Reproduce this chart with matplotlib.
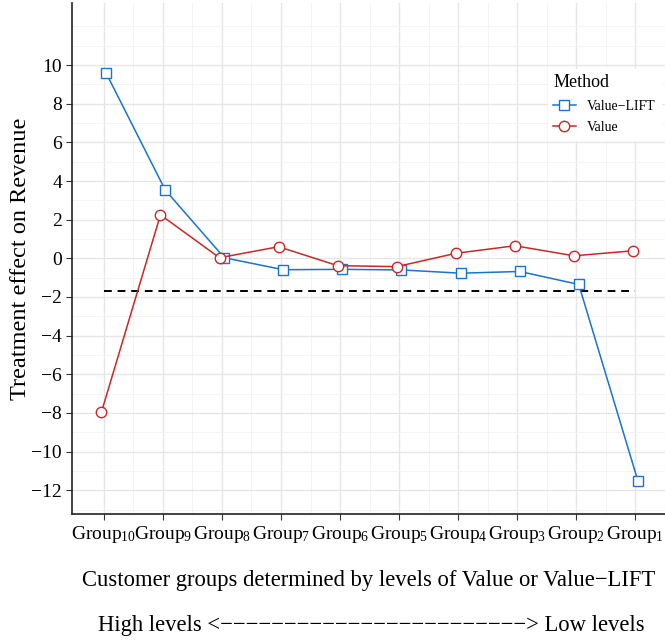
import numpy as np
import matplotlib
matplotlib.use('Agg')
import matplotlib.pyplot as plt

plt.rcParams['font.family'] = ['Liberation Serif', 'DejaVu Serif']
plt.rcParams['mathtext.fontset'] = 'custom'
plt.rcParams['mathtext.rm'] = 'Liberation Serif'
plt.rcParams['mathtext.it'] = 'Liberation Serif'

# data
groups = [r'Group$_{10}$', r'Group$_{9}$', r'Group$_{8}$', r'Group$_{7}$', r'Group$_{6}$',
          r'Group$_{5}$', r'Group$_{4}$', r'Group$_{3}$', r'Group$_{2}$', r'Group$_{1}$']
value_lift = [9.59, 3.54, 0.03, -0.59, -0.57, -0.6, -0.77, -0.68, -1.35, -11.5]
value = [-7.97, 2.25, 0.03, 0.6, -0.38, -0.43, 0.26, 0.65, 0.13, 0.39]
ref_level = -1.67

blue = '#1874CD'
red = '#CD2626'

fig = plt.figure(figsize=(6.65, 6.43), dpi=100)
ax = fig.add_axes([0.108, 0.2, 0.892, 0.795])

x = np.arange(1, len(groups) + 1)
dodge = 0.04
ax.hlines(ref_level, x[0], x[-1], colors='black', linestyles=(0, (4, 3)), linewidth=1.4, zorder=2)
ax.plot(x + dodge, value_lift, '-', color=blue, linewidth=1.1, marker='s', markersize=7,
        markerfacecolor='white', markeredgecolor=blue, markeredgewidth=1.0, label='Value\u2212LIFT', zorder=3)
ax.plot(x - dodge, value, '-', color=red, linewidth=1.1, marker='o', markersize=7.5,
        markerfacecolor='white', markeredgecolor=red, markeredgewidth=1.0, label='Value', zorder=3)

ax.set_xlim(0.46, 10.5)
ax.set_ylim(-13.25, 13.2)
ax.set_xticks(x)
ax.set_xticklabels(groups, fontsize=14)
ax.set_yticks(np.arange(-12, 11, 2))
ax.set_yticklabels([str(v).replace('-', '\u2212') for v in range(-12, 11, 2)], fontsize=14)
ax.set_xticks(np.arange(1.5, 10.5, 1), minor=True)
ax.set_yticks(np.arange(-13, 13, 1), minor=True)
ax.tick_params(which='minor', length=0)
ax.tick_params(which='major', length=4, width=0.8, color='#333333', pad=3)
ax.grid(which='major', color='#e6e6e6', linewidth=1.0)
ax.grid(which='minor', color='#f2f2f2', linewidth=0.6)
ax.set_axisbelow(True)
for s in ['top', 'right']:
    ax.spines[s].set_visible(False)
for s in ['left', 'bottom']:
    ax.spines[s].set_color('#222222')
    ax.spines[s].set_linewidth(1.2)

ax.set_ylabel('Treatment effect on Revenue', fontsize=17.5, labelpad=0)

fig.text(0.555, 0.097, 'Customer groups determined by levels of Value or Value\u2212LIFT',
         ha='center', va='center', fontsize=16.3)
fig.text(0.559, 0.027, 'High levels <' + '\u2212' * 24 + '> Low levels',
         ha='center', va='center', fontsize=16.3)

leg = ax.legend(loc='upper right', bbox_to_anchor=(1.0, 0.88), title='Method', fontsize=10,
                title_fontsize=13, frameon=True, fancybox=False, edgecolor='white',
                framealpha=1.0, handlelength=1.6, borderaxespad=0.3, labelspacing=0.6)
leg._legend_box.align = 'left'

fig.savefig('out.png', dpi=100)
